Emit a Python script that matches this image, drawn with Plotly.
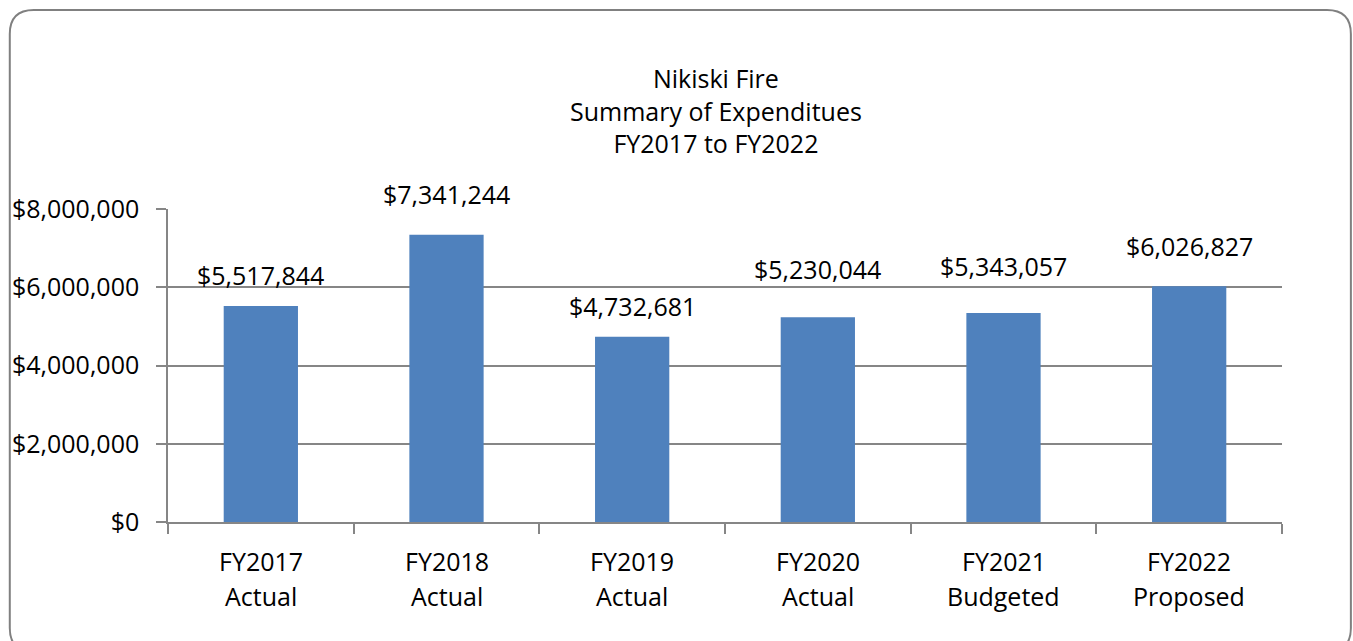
import plotly.graph_objects as go

categories = ["FY2017 Actual", "FY2018 Actual", "FY2019 Actual",
              "FY2020 Actual", "FY2021 Budgeted", "FY2022 Proposed"]
label_line1 = ["FY2017", "FY2018", "FY2019", "FY2020", "FY2021", "FY2022"]
label_line2 = ["Actual", "Actual", "Actual", "Actual", "Budgeted", "Proposed"]
values = [5517844, 7341244, 4732681, 5230044, 5343057, 6026827]
y_ticks = [0, 2000000, 4000000, 6000000, 8000000]
y_tick_labels = ["$0", "$2,000,000", "$4,000,000", "$6,000,000", "$8,000,000"]
title_lines = ["Nikiski Fire", "Summary of Expenditues", "FY2017 to FY2022"]

# style: extra vertical offset (px) of each data label, as placed in the original
label_extra_shift = [0, 10, 0, 17, 16, 9]

W, H = 1353, 641
L, R, T, B = 166, 1282, 209, 522
FONT = "Open Sans"
FS = 25

fig = go.Figure(go.Bar(x=categories, y=values, marker_color="#4F81BD",
                       marker_line_width=0, hoverinfo="skip"))

for c, v, s in zip(categories, values, label_extra_shift):
    fig.add_annotation(x=c, y=v, text="${:,.0f}".format(v), showarrow=False,
                       yanchor="bottom", yshift=12 + s,
                       font=dict(family=FONT, size=FS, color="#000000"))

for c, l1, l2 in zip(categories, label_line1, label_line2):
    fig.add_annotation(x=c, y=0, yref="paper", text=l1, showarrow=False,
                       yanchor="middle", yshift=-39,
                       font=dict(family=FONT, size=FS, color="#000000"))
    fig.add_annotation(x=c, y=0, yref="paper", text=l2, showarrow=False,
                       yanchor="middle", yshift=-74,
                       font=dict(family=FONT, size=FS, color="#000000"))

def px(x):
    return (x - L) / (R - L)

def py(y):
    return (B - y) / (B - T)

fig.add_annotation(x=px(715), y=py(111), xref="paper", yref="paper",
                   text="<br>".join(title_lines), showarrow=False,
                   xanchor="center", yanchor="middle", align="center",
                   font=dict(family=FONT, size=FS, color="#000000"))

x0, y0, x1, y1, r = 7.5, 10, 1351, 652, 24
path = (f"M {px(x0+r)},{py(y0)} L {px(x1-r)},{py(y0)} "
        f"Q {px(x1)},{py(y0)} {px(x1)},{py(y0+r)} "
        f"L {px(x1)},{py(y1-r)} Q {px(x1)},{py(y1)} {px(x1-r)},{py(y1)} "
        f"L {px(x0+r)},{py(y1)} Q {px(x0)},{py(y1)} {px(x0)},{py(y1-r)} "
        f"L {px(x0)},{py(y0+r)} Q {px(x0)},{py(y0)} {px(x0+r)},{py(y0)} Z")
fig.add_shape(type="path", path=path, xref="paper", yref="paper",
              line=dict(color="#808080", width=2), layer="above")

fig.update_layout(
    width=W, height=H,
    margin=dict(l=L, r=W - R, t=T, b=H - B, pad=0),
    paper_bgcolor="white", plot_bgcolor="white",
    bargap=0.6, showlegend=False,
    font=dict(family=FONT, size=FS, color="#000000"),
    xaxis=dict(type="category", tickson="boundaries", ticks="outside", ticklen=10,
               tickcolor="#868686", tickwidth=1.5, showline=True, linecolor="#868686",
               linewidth=1.5, showgrid=False, showticklabels=False, fixedrange=True),
    yaxis=dict(range=[0, 8000000], tickvals=y_ticks, ticktext=y_tick_labels,
               ticks="outside", ticklen=10, tickcolor="#868686", tickwidth=1.5,
               showline=True, linecolor="#868686", linewidth=1.5,
               showgrid=True, gridcolor="#868686", gridwidth=1.5,
               zeroline=False, tickfont=dict(size=FS), fixedrange=True,
               ticklabelstandoff=12),
)

fig.write_html("out.html", config={"displayModeBar": False},
               post_script="document.body.style.margin='0';document.body.style.overflow='hidden';")
